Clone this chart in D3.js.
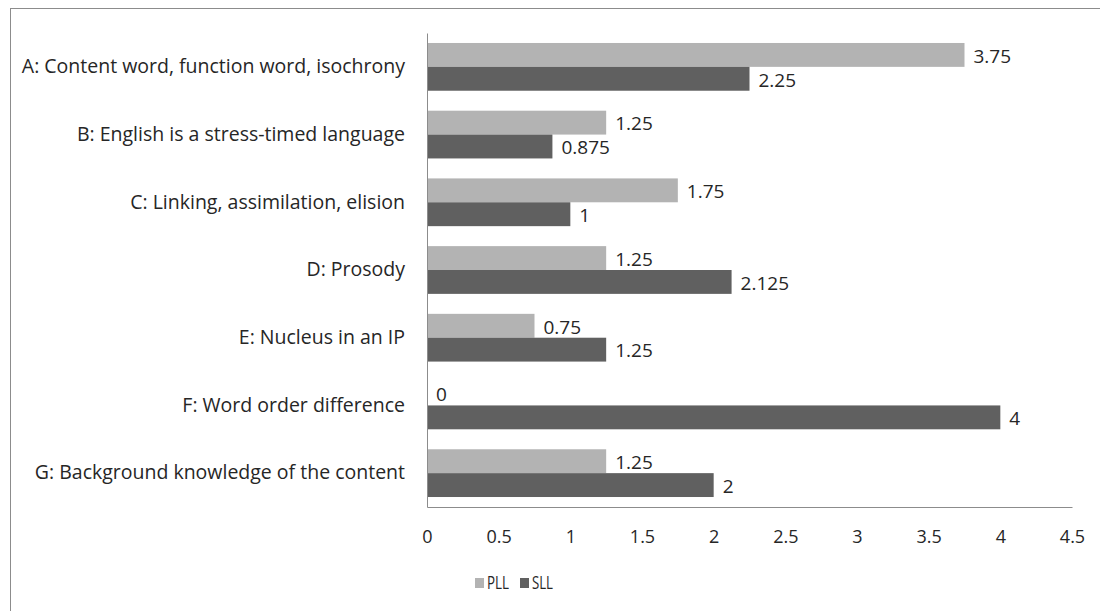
<!DOCTYPE html>
<html>
<head>
<meta charset="utf-8">
<script src="https://cdn.jsdelivr.net/npm/d3@7"></script>
<style>
  body { margin: 0; background: #fff; }
  text { font-family: "Open Sans", sans-serif; fill: #262626; }
</style>
</head>
<body>
<div id="svg-div"></div>
<script>
var categories = [
  "A: Content word, function word, isochrony",
  "B: English is a stress-timed language",
  "C: Linking, assimilation, elision",
  "D: Prosody",
  "E: Nucleus in an IP",
  "F: Word order difference",
  "G: Background knowledge of the content"
];
var pllValues = [3.75, 1.25, 1.75, 1.25, 0.75, 0, 1.25];
var sllValues = [2.25, 0.875, 1, 2.125, 1.25, 4, 2];
var seriesNames = ["PLL", "SLL"];
var xTicks = [0, 0.5, 1, 1.5, 2, 2.5, 3, 3.5, 4, 4.5];

var width = 1100;
var height = 611;
var colors = {PLL: "#b3b3b3", SLL: "#606060"};

var svg = d3.select("#svg-div").append("svg")
    .attr("width", width).attr("height", height);

// outer frame, right and bottom edges fall outside the picture
svg.append("rect")
   .attr("x", 10.5).attr("y", 8.5)
   .attr("width", 1200).attr("height", 700)
   .style("fill", "none").style("stroke", "#8c8c8c").style("stroke-width", 1);

var x = d3.scaleLinear().domain([0, 4.5]).range([427, 1072]);
var y = d3.scaleBand().domain(categories).range([33, 507]).paddingInner(0.295).paddingOuter(0.1475);
var inner = d3.scaleBand().domain(seriesNames).range([0, y.bandwidth()]);

var rows = categories.map(function(c, i) {
  return {cat: c, PLL: pllValues[i], SLL: sllValues[i]};
});

var g = svg.append("g");
rows.forEach(function(r) {
  seriesNames.forEach(function(s) {
    g.append("rect")
     .attr("x", x(0))
     .attr("y", y(r.cat) + inner(s))
     .attr("width", x(r[s]) - x(0))
     .attr("height", inner.bandwidth())
     .style("fill", colors[s]);
    g.append("text")
     .attr("x", x(r[s]) + 9)
     .attr("y", y(r.cat) + inner(s) + inner.bandwidth() / 2 + 1)
     .attr("dy", "0.36em")
     .style("font-size", "19px")
     .text(r[s]);
  });
});

// axes
var xAxis = d3.axisBottom(x).tickValues(xTicks).tickSize(0).tickPadding(23)
    .tickFormat(function(d) { return d; });
var gx = svg.append("g").attr("transform", "translate(0,507)").call(xAxis);
gx.select(".domain").style("stroke", "#8c8c8c");
gx.selectAll("text").style("font-size", "18px").style("font-family", "'Open Sans', sans-serif").style("fill", "#262626");

var yAxis = d3.axisLeft(y).tickSize(0).tickPadding(22);
var gy = svg.append("g").attr("transform", "translate(427,0)").call(yAxis);
gy.select(".domain").style("stroke", "#8c8c8c");
gy.selectAll("text").style("font-size", "19.5px").style("font-family", "'Open Sans', sans-serif").style("fill", "#262626");

// legend
var legend = svg.append("g").attr("transform", "translate(475,583)");
var legendText = {PLL: 22, SLL: 21};
seriesNames.forEach(function(s, i) {
  var lg = legend.append("g").attr("transform", "translate(" + (i * 45) + ",0)");
  lg.append("rect").attr("x", 0).attr("y", -5).attr("width", 9).attr("height", 10)
    .style("fill", colors[s]);
  lg.append("text").attr("x", 12).attr("y", 0).attr("dy", "0.36em")
    .attr("textLength", legendText[s]).attr("lengthAdjust", "spacingAndGlyphs")
    .style("font-size", "18px").text(s);
});
</script>
</body>
</html>
